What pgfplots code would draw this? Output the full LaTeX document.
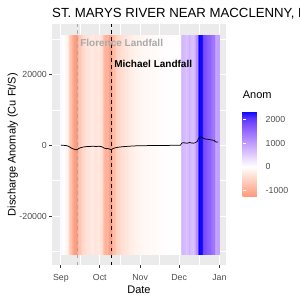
\documentclass[border=0pt]{standalone}
\usepackage{pgfplots}
\pgfplotsset{compat=1.18}
\usepackage{pgfplotstable}
\usepackage{fontspec}
\setmainfont{Liberation Sans}
\definecolor{gray92}{HTML}{EBEBEB}
\definecolor{gray30}{HTML}{4D4D4D}
\definecolor{gray20}{HTML}{333333}
\definecolor{flgray}{HTML}{A9A9A9}

\pgfplotsset{colormap={anom}{rgb255(0pt)=(255,152,122); rgb255(7pt)=(255,159,130); rgb255(66pt)=(255,207,191); rgb255(96pt)=(255,231,222); rgb255(125pt)=(255,255,255); rgb255(155pt)=(238,226,255); rgb255(184pt)=(220,196,255); rgb255(243pt)=(179,139,255); rgb255(302pt)=(126,82,255); rgb255(332pt)=(89,50,255); rgb255(361pt)=(0,0,255)}}

% day 0 = Sep 1, 2018; row 122 repeats the last value to close the last stripe
\pgfplotstableread{
d a
0 60
1 40
2 0
3 -30
4 -60
5 -150
6 -300
7 -500
8 -750
9 -950
10 -1050
11 -1200
12 -1250
13 -1100
14 -850
15 -700
16 -600
17 -500
18 -450
19 -400
20 -350
21 -350
22 -300
23 -300
24 -250
25 -250
26 -300
27 -350
28 -300
29 -250
30 -300
31 -350
32 -500
33 -700
34 -850
35 -950
36 -900
37 -1000
38 -1150
39 -1200
40 -950
41 -800
42 -700
43 -600
44 -550
45 -500
46 -450
47 -420
48 -380
49 -350
50 -320
51 -300
52 -270
53 -250
54 -220
55 -200
56 -180
57 -160
58 -150
59 -140
60 -130
61 -120
62 -110
63 -100
64 -100
65 -90
66 -90
67 -80
68 -80
69 -70
70 -70
71 -60
72 -60
73 -50
74 -50
75 -40
76 -40
77 -30
78 -30
79 -30
80 -20
81 -20
82 -20
83 -20
84 -10
85 -10
86 -10
87 -10
88 -10
89 -10
90 -10
91 0
92 0
93 600
94 750
95 700
96 650
97 600
98 650
99 800
100 700
101 650
102 600
103 700
104 850
105 1100
106 2000
107 2360
108 2300
109 2250
110 1900
111 1800
112 1750
113 1700
114 1650
115 1600
116 1500
117 1450
118 1400
119 1000
120 900
121 950
122 950
}\anom
\pgfplotstablevertcat{\stripes}{\anom}
\pgfplotstablevertcat{\stripes}{\anom}

\begin{document}
\begin{tikzpicture}
\useasboundingbox (0,0) rectangle (300pt,300pt);
\node[anchor=base west, inner sep=0pt, font=\fontsize{13.2}{15}\selectfont] at (52pt,282.3pt) {ST. MARYS RIVER NEAR MACCLENNY, FL};
\begin{axis}[
  at={(52pt,35pt)}, anchor=south west,
  scale only axis, width=174pt, height=240.7pt,
  xmin=-6.8, xmax=127.1, ymin=-33820, ymax=34200,
  axis background/.style={fill=gray92},
  axis line style={draw=none},
  xtick={0,30,61,91,122}, xticklabels={Sep,Oct,Nov,Dec,Jan},
  minor xtick={15,45.5,76,106.5},
  ytick={-20000,0,20000}, minor ytick={-30000,-10000,10000,30000},
  scaled y ticks=false,
  /pgf/number format/1000 sep={},
  /pgf/number format/assume math mode=true,
  grid=both,
  major grid style={white, line width=1.07pt},
  minor grid style={white, line width=0.53pt},
  tick align=outside,
  major tick length=2.75pt,
  minor tick length=0pt,
  tick style={gray20, line width=0.8pt},
  xtick pos=bottom, ytick pos=left,
  ticklabel style={font=\fontsize{8.8}{10}\selectfont, text=gray30},
  yticklabel style={inner sep=0pt, xshift=-2.2pt},
  xticklabel style={inner sep=0pt, yshift=-6.2pt},
  xlabel={Date}, ylabel={Discharge Anomaly (Cu Ft/S)},
  label style={font=\fontsize{11}{13}\selectfont},
  xlabel style={at={(axis description cs:0.5,0)}, anchor=base, yshift=-28.3pt},
  ylabel style={at={(axis description cs:-0.2253,0.5)}, anchor=center},
  colormap name=anom,
  point meta min=-1250, point meta max=2360,
  colorbar,
  colorbar shift/.style={},
  colorbar style={
    at={(parent axis.south east)}, anchor=south west,
    xshift=16.7pt, yshift=68.6pt,
    scale only axis, width=17.3pt, height=85.4pt,
    axis line style={draw=none},
    ytick={-1000,0,1000,2000},
    ytick pos=both, yticklabel pos=right,
    tick align=inside,
    major tick length=3.5pt,
    tick style={white, line width=0.6pt},
    yticklabel style={font=\fontsize{8.8}{10}\selectfont, text=gray30, inner sep=0pt, anchor=west, xshift=5.5pt},
    /pgf/number format/1000 sep={},
    /pgf/number format/assume math mode=true,
    scaled y ticks=false,
    title={Anom},
    title style={at={(0,1)}, anchor=base west, yshift=6pt, inner sep=0pt, font=\fontsize{11}{13}\selectfont},
  },
]
\addplot[surf, shader=flat corner, point meta=explicit, mesh/cols=123]
  table[x expr=\thisrow{d}-0.5, y expr={\coordindex<123 ? -30730 : 31100}, meta=a]{\stripes};
\addplot[flgray, line width=0.8pt, dash pattern=on 3.5pt off 3.5pt] coordinates {(13,-33820) (13,34200)};
\addplot[black, line width=0.8pt, dash pattern=on 3.5pt off 3.5pt] coordinates {(39,-33820) (39,34200)};
\addplot[black, line width=0.75pt, skip coords between index={122}{123}] table[x=d, y=a]{\anom};
\node[anchor=west, inner sep=0pt, text=flgray, font=\bfseries\fontsize{10}{12}\selectfont] at (axis cs:14.8,29050) {Florence Landfall};
\node[anchor=west, inner sep=0pt, text=black, font=\bfseries\fontsize{10}{12}\selectfont] at (axis cs:41,23000) {Michael Landfall};
\end{axis}
\end{tikzpicture}
\end{document}
